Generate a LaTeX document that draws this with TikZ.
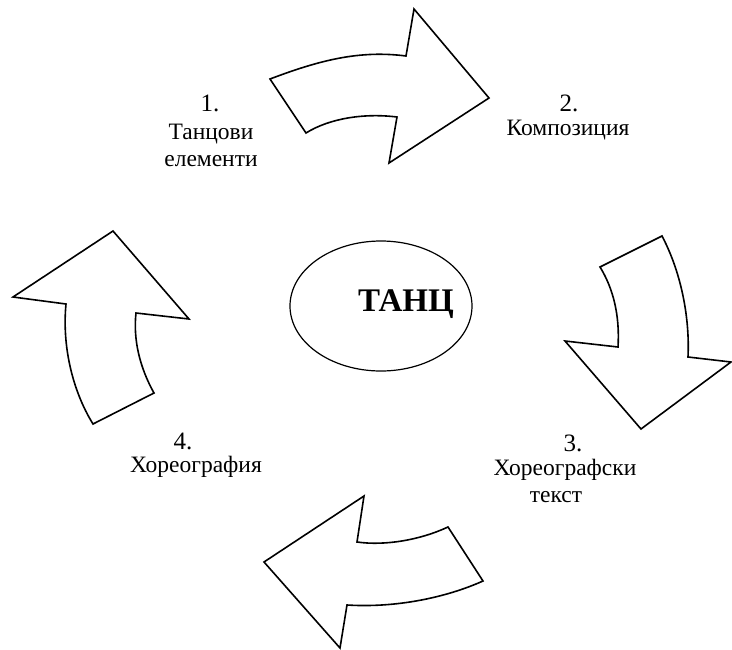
\documentclass[tikz,border=0pt]{standalone}
\usepackage{fontspec}
\setmainfont{Liberation Serif}
\newfontfamily\tnr{Liberation Serif}
\usetikzlibrary{shapes.geometric}
\begin{document}
\begin{tikzpicture}[x=1pt,y=-1pt,
  arr/.style={draw=black,line width=1.6pt,line join=miter,fill=white},
  lbl/.style={align=center,inner sep=0pt,font=\tnr\fontsize{23.5}{27}\selectfont},
  num/.style={inner sep=0pt,font=\tnr\fontsize{25}{27}\selectfont}]
\useasboundingbox (0,0) rectangle (732,649);
% arrow 1 (top)
\draw[arr] (270,79) .. controls (320,60) and (360,50) .. (406,56)
  -- (414,9) -- (489,98) -- (389,163) -- (397,117)
  .. controls (365,113) and (330,118) .. (306,133) -- cycle;
% arrow 2 (right)
\draw[arr] (662,236) -- (600,267) .. controls (613,288) and (620,315) .. (618,347)
  -- (565,341) -- (641,429) -- (731,362) -- (688,357)
  .. controls (690,315) and (680,270) .. (662,236) -- cycle;
% arrow 3 (bottom)
\draw[arr] (448,527) .. controls (420,540) and (385,546) .. (357,542)
  -- (364,496) -- (264,562) -- (340,648) -- (347,605)
  .. controls (395,608) and (445,598) .. (483,581) -- cycle;
% arrow 4 (left)
\draw[arr] (93,424) -- (154,393) .. controls (140,368) and (133,340) .. (136,313)
  -- (189,319) -- (113,231) -- (13,297) -- (66,304)
  .. controls (62,345) and (72,390) .. (93,424) -- cycle;
% centre
\node[ellipse,draw,line width=1.2pt,inner sep=0pt,minimum width=182pt,minimum height=130pt] (ell) at (381,306) {};
\node[inner sep=0pt,font=\tnr\fontsize{33}{36}\selectfont\bfseries] (tanc) at (406,304) {ТАНЦ};
% labels
\node[num] (n1) at (210,103) {1.};
\node[lbl] (l1) at (211,145) {Танцови\\елементи};
\node[num] (n2) at (569,103) {2.};
\node[lbl] (l2) at (568,130) {Композиция};
\node[num] (n3) at (573,443) {3.};
\node[lbl] (l3a) at (565,470) {Хореографски};
\node[lbl] (l3b) at (556,497) {текст};
\node[num] (n4) at (183,441) {4.};
\node[lbl] (l4) at (196,467) {Хореография};
\end{tikzpicture}
\end{document}
